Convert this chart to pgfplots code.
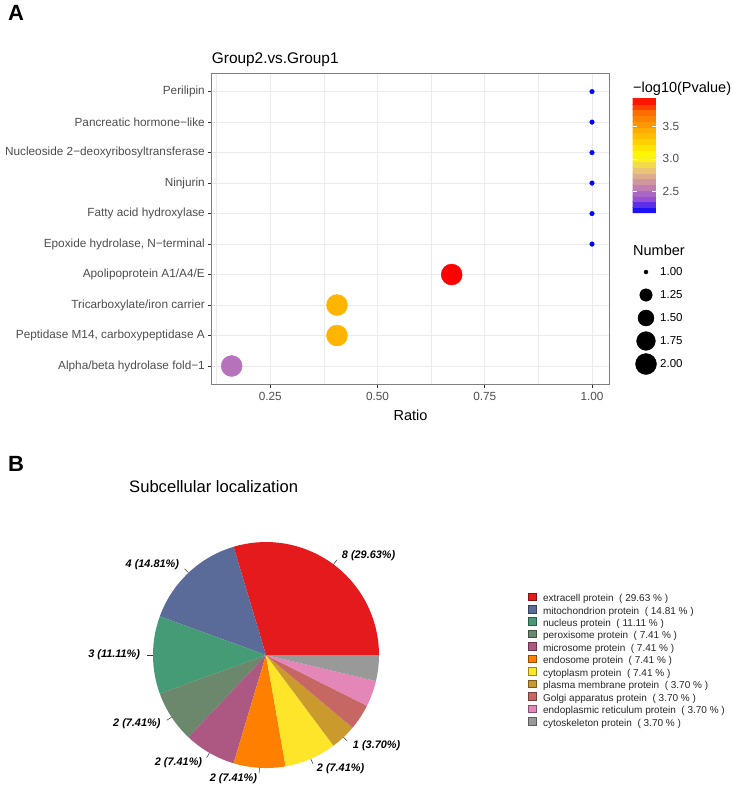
\documentclass[border=0pt]{standalone}
\usepackage{fontspec}
\setmainfont{Liberation Sans}
\usepackage{pgfplots}
\usepackage{pgfplotstable}
\pgfplotsset{compat=1.18}

% theme colours
\definecolor{gridc}{HTML}{EBEBEB}
\definecolor{framec}{HTML}{808080}
\definecolor{tickc}{HTML}{333333}
\definecolor{labc}{HTML}{4D4D4D}
% pie slice colours
\definecolor{pc1}{HTML}{E41A1C}
\definecolor{pc2}{HTML}{5A6A99}
\definecolor{pc3}{HTML}{449B76}
\definecolor{pc4}{HTML}{6B886D}
\definecolor{pc5}{HTML}{AD5882}
\definecolor{pc6}{HTML}{FF7F00}
\definecolor{pc7}{HTML}{FFE529}
\definecolor{pc8}{HTML}{CA9A2C}
\definecolor{pc9}{HTML}{C66764}
\definecolor{pc10}{HTML}{E486B7}
\definecolor{pc11}{HTML}{999999}

\newcommand\tfont{\fontsize{11.8}{13}\selectfont}
\newcommand\pieR{113pt}
\newcommand\pietotal{27}
% slice from cumulative count #1 to #2
\newcommand\pieslice[3]{\fill[#3] (axis cs:0,0) -- ++({360*#1/\pietotal}:\pieR)
  arc[start angle={360*#1/\pietotal}, end angle={360*#2/\pietotal}, radius=\pieR] -- cycle;}
% label at the middle (cumulative count #1) of a slice
\newcommand\pielabel[3]{%
  \draw[black!80, line width=0.5pt] (axis cs:0,0) ++({360*#1/\pietotal}:\pieR) -- ++({360*#1/\pietotal}:5.65pt);
  \path (axis cs:0,0) ++({360*#1/\pietotal}:124.3pt)
    node[anchor=#2, inner sep=1.5pt, font=\fontsize{10.9}{12}\selectfont\bfseries\itshape] {#3};}

% domain enrichment: row, ratio, -log10(P), number of proteins
\pgfplotstableread{
row ratio logp num
10 1.0000 2.165 1
9  1.0000 2.165 1
8  1.0000 2.165 1
7  1.0000 2.165 1
6  1.0000 2.165 1
5  1.0000 2.165 1
4  0.6729 3.940 2
3  0.4055 3.410 2
2  0.4055 3.410 2
1  0.1600 2.520 2
}\enrich

% size key
\pgfplotstableread{
x y num
1 5 1.00
1 4 1.25
1 3 1.50
1 2 1.75
1 1 2.00
}\sizekey

\begin{document}
\begin{tikzpicture}
\path[use as bounding box] (0pt,0pt) rectangle (733pt,-788pt);

% ---------------- panel A ----------------
\node[anchor=base west, inner sep=0pt, font=\fontsize{22}{24}\selectfont\bfseries] at (8pt,-20.5pt) {A};
\node[anchor=base west, inner sep=0pt, font=\fontsize{15.4}{18}\selectfont] at (211.7pt,-63.7pt) {Group2.vs.Group1};

\begin{axis}[
  at={(211.7pt,-384.3pt)}, anchor=south west,
  scale only axis, width=397.6pt, height=311pt,
  xmin=0.1134, xmax=1.0403, ymin=0.4, ymax=10.6,
  xtick={0.25,0.5,0.75,1}, xticklabels={0.25,0.50,0.75,1.00},
  minor xtick={0.125,0.375,0.625,0.875},
  ytick={1,...,10},
  yticklabels={Alpha/beta hydrolase fold−1, {Peptidase M14, carboxypeptidase A},
    Tricarboxylate/iron carrier, Apolipoprotein A1/A4/E, {Epoxide hydrolase, N−terminal},
    Fatty acid hydroxylase, Ninjurin, Nucleoside 2−deoxyribosyltransferase,
    Pancreatic hormone−like, Perilipin},
  xmajorgrids, ymajorgrids, xminorgrids,
  major grid style={gridc, line width=0.8pt},
  minor grid style={gridc, line width=0.45pt},
  axis line style={framec, line width=0.8pt},
  tick style={tickc, line width=0.8pt},
  major tick length=3.7pt, minor tick length=0pt,
  tick align=outside, xtick pos=left, ytick pos=left,
  ticklabel style={font=\tfont, text=labc},
  yticklabel style={inner sep=0pt, xshift=-3pt},
  xticklabel style={inner sep=0pt, yshift=-4.5pt},
  colormap={pv}{rgb255=(0,0,255) rgb255=(151,80,213) rgb255=(202,138,170)
    rgb255=(234,196,118) rgb255=(255,255,0) rgb255=(255,209,0)
    rgb255=(255,162,0) rgb255=(255,108,0) rgb255=(255,0,0)},
  point meta min=2.165, point meta max=3.94,
  colorbar sampled,
  colorbar style={
    at={(parent axis.north east)}, anchor=north west,
    xshift=14.7pt, yshift=-24.7pt,
    scale only axis, width=24pt, height=115pt,
    samples=21,
    ytick={2.5,3,3.5}, yticklabels={2.5,3.0,3.5},
    axis line style={draw=none},
    tick style={white, line width=0.8pt},
    major tick length=4.8pt, tick align=inside,
    ytick pos=both, yticklabel pos=right,
    yticklabel style={font=\tfont, text=labc, inner sep=0pt, xshift=6pt},
  },
]
\addplot[scatter, only marks, mark=*,
  point meta=\thisrow{logp},
  visualization depends on={2.3+8.2*sqrt(\thisrow{num}-1)\as\msize},
  scatter/use mapped color={draw=mapped color, fill=mapped color},
  scatter/@pre marker code/.append style={/tikz/mark size=\msize}]
  table[x=ratio, y=row] {\enrich};
\end{axis}

\node[anchor=base, inner sep=0pt, font=\fontsize{14.5}{16}\selectfont] at (410.5pt,-420pt) {Ratio};
\node[anchor=base west, inner sep=0pt, font=\fontsize{14.5}{16}\selectfont] at (633pt,-92.7pt) {−log10(Pvalue)};
\node[anchor=base west, inner sep=0pt, font=\fontsize{14.5}{16}\selectfont] at (633pt,-255pt) {Number};

\begin{axis}[
  at={(636pt,-364pt)}, anchor=south west,
  scale only axis, width=20pt, height=92pt,
  xmin=0, xmax=2, ymin=1, ymax=5,
  hide axis, clip=false,
]
% key circles
\addplot[scatter, only marks, mark=*,
  point meta=\thisrow{num},
  visualization depends on={2.0+8.5*sqrt(\thisrow{num}-1)\as\msize},
  scatter/use mapped color={draw=black, fill=black},
  scatter/@pre marker code/.append style={/tikz/mark size=\msize}]
  table[x=x, y=y] {\sizekey};
% key values
\addplot[only marks, mark=none,
  point meta=\thisrow{num},
  nodes near coords={\pgfmathprintnumber[fixed, fixed zerofill, precision=2, assume math mode=true]{\pgfplotspointmeta}},
  nodes near coords style={anchor=west, inner sep=0pt, xshift=14pt, font=\fontsize{11.5}{13}\selectfont, text=black}]
  table[x=x, y=y] {\sizekey};
\end{axis}

% ---------------- panel B ----------------
\node[anchor=base west, inner sep=0pt, font=\fontsize{22}{24}\selectfont\bfseries] at (8pt,-471pt) {B};
\node[anchor=base west, inner sep=0pt, font=\fontsize{16.6}{19}\selectfont] at (129pt,-492.5pt) {Subcellular localization};

\begin{axis}[
  at={(0pt,-788pt)}, anchor=south west,
  scale only axis, width=733pt, height=348pt,
  xmin=-2.354, xmax=4.133, ymin=-1.177, ymax=1.903,
  enlargelimits=false, hide axis, clip=false,
  legend image code/.code={\draw[#1] (0pt,-1.3pt) rectangle (7.6pt,6.3pt);},
  legend cell align=left,
  legend style={at={(0.7203,0.5618)}, anchor=north west, draw=none, fill=none,
    inner sep=0pt, outer sep=0pt, row sep=0pt, column sep=7pt,
    nodes={inner sep=0pt, text height=8.4pt, text depth=3.4pt,
      font=\fontsize{10}{12}\selectfont, text=black!85}},
]
\pieslice{0}{8}{pc1}
\pieslice{8}{12}{pc2}
\pieslice{12}{15}{pc3}
\pieslice{15}{17}{pc4}
\pieslice{17}{19}{pc5}
\pieslice{19}{21}{pc6}
\pieslice{21}{23}{pc7}
\pieslice{23}{24}{pc8}
\pieslice{24}{25}{pc9}
\pieslice{25}{26}{pc10}
\pieslice{26}{27}{pc11}

\pielabel{4}{west}{8 (29.63\%)}
\pielabel{10}{east}{4 (14.81\%)}
\pielabel{13.5}{east}{3 (11.11\%)}
\pielabel{16}{east}{2 (7.41\%)}
\pielabel{18}{east}{2 (7.41\%)}
\pielabel{20}{east}{2 (7.41\%)}
\pielabel{22}{west}{2 (7.41\%)}
\pielabel{23.5}{west}{1 (3.70\%)}

\addlegendimage{fill=pc1, draw=pc1!60!black, line width=0.5pt}
\addlegendentry{extracell protein \ ( 29.63 \% )}
\addlegendimage{fill=pc2, draw=pc2!60!black, line width=0.5pt}
\addlegendentry{mitochondrion protein \ ( 14.81 \% )}
\addlegendimage{fill=pc3, draw=pc3!60!black, line width=0.5pt}
\addlegendentry{nucleus protein \ ( 11.11 \% )}
\addlegendimage{fill=pc4, draw=pc4!60!black, line width=0.5pt}
\addlegendentry{peroxisome protein \ ( 7.41 \% )}
\addlegendimage{fill=pc5, draw=pc5!60!black, line width=0.5pt}
\addlegendentry{microsome protein \ ( 7.41 \% )}
\addlegendimage{fill=pc6, draw=pc6!60!black, line width=0.5pt}
\addlegendentry{endosome protein \ ( 7.41 \% )}
\addlegendimage{fill=pc7, draw=pc7!60!black, line width=0.5pt}
\addlegendentry{cytoplasm protein \ ( 7.41 \% )}
\addlegendimage{fill=pc8, draw=pc8!60!black, line width=0.5pt}
\addlegendentry{plasma membrane protein \ ( 3.70 \% )}
\addlegendimage{fill=pc9, draw=pc9!60!black, line width=0.5pt}
\addlegendentry{Golgi apparatus protein \ ( 3.70 \% )}
\addlegendimage{fill=pc10, draw=pc10!60!black, line width=0.5pt}
\addlegendentry{endoplasmic reticulum protein \ ( 3.70 \% )}
\addlegendimage{fill=pc11, draw=pc11!60!black, line width=0.5pt}
\addlegendentry{cytoskeleton protein \ ( 3.70 \% )}
\end{axis}
\end{tikzpicture}
\end{document}
